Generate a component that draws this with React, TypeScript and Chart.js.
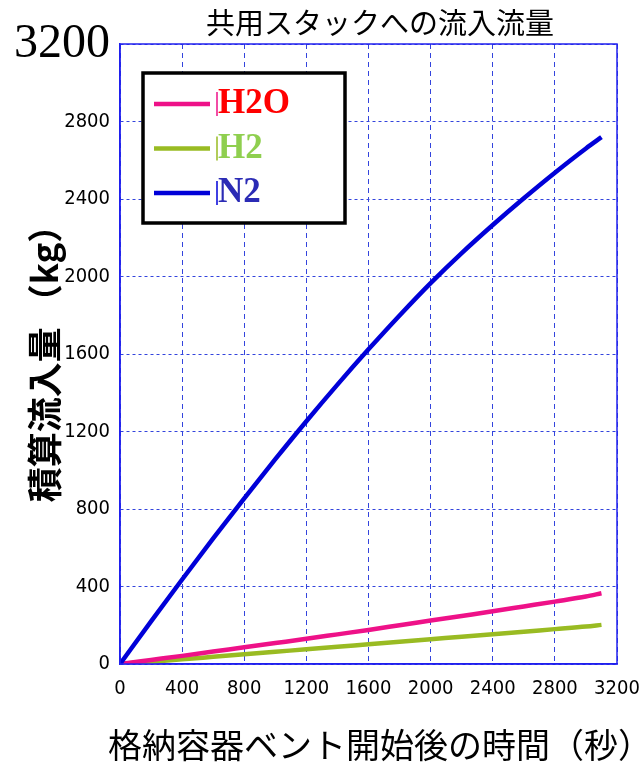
import React, { useEffect, useRef } from 'react';
import { Chart, registerables } from 'chart.js';

Chart.register(...registerables);

// ---- data ----
const timeSec = [0, 200, 400, 600, 800, 1000, 1200, 1400, 1600, 1800, 2000, 2200, 2400, 2600, 2800, 3000, 3100];
const h2oKg = [0, 21, 42, 64, 86, 108, 130, 153, 176, 200, 224, 248, 272, 297, 322, 348, 365];
const h2Kg = [0, 12, 24, 37, 50, 63, 76, 89, 102, 115, 128, 141, 154, 167, 180, 193, 202];
const n2Kg = [0, 220, 436, 648, 855, 1057, 1253, 1442, 1624, 1799, 1966, 2121, 2266, 2404, 2536, 2661, 2719];

const seriesNames = ['H2O', 'H2', 'N2'];
const lineColors = ['#ee1188', '#99bb22', '#0000d8'];
const legendTextColors = ['#ff0000', '#8fcf4f', '#2b2bb5'];

const axisMin = 0;
const axisMax = 3200;
const axisStep = 400;

const chartTitle = '共用スタックへの流入流量';
const xAxisTitle = '格納容器ベント開始後の時間（秒）';
const yAxisTitle = '積算流入量 （kg）';

const tickFamily = '"DejaVu Sans Condensed", "Liberation Sans Narrow", "DejaVu Sans", sans-serif';
const cjkFont = '"Noto Sans CJK JP", "Noto Sans", sans-serif';

const decorPlugin = {
  id: 'decor',
  afterDraw(chart: any) {
    const { ctx, chartArea } = chart;
    const { left, top, right, bottom } = chartArea;
    ctx.save();
    // frame
    ctx.strokeStyle = '#2222ee';
    ctx.lineWidth = 1.5;
    ctx.setLineDash([]);
    ctx.strokeRect(left, top, right - left, bottom - top);

    // title
    ctx.fillStyle = '#000';
    ctx.font = `29px ${cjkFont}`;
    ctx.textAlign = 'center';
    ctx.textBaseline = 'middle';
    ctx.fillText(chartTitle, 380, 23);

    // x title
    ctx.font = `34px ${cjkFont}`;
    ctx.textAlign = 'left';
    ctx.fillText(xAxisTitle, 108, 745);

    // y title
    ctx.save();
    ctx.translate(45, 355);
    ctx.rotate(-Math.PI / 2);
    ctx.font = `bold 35px ${cjkFont}`;
    ctx.textAlign = 'center';
    ctx.fillText(yAxisTitle, 0, 0);
    ctx.restore();

    // legend
    const bx = left + 23;
    const by = top + 29;
    const bw = 202;
    const bh = 150;
    ctx.fillStyle = '#fff';
    ctx.fillRect(bx, by, bw, bh);
    ctx.strokeStyle = '#000';
    ctx.lineWidth = 3.5;
    ctx.strokeRect(bx, by, bw, bh);
    seriesNames.forEach((name, i) => {
      const y = by + 31 + i * 44.5;
      ctx.strokeStyle = lineColors[i];
      ctx.lineWidth = 4.5;
      ctx.beginPath();
      ctx.moveTo(bx + 11, y);
      ctx.lineTo(bx + 67, y);
      ctx.stroke();
      ctx.lineWidth = 1.5;
      ctx.beginPath();
      ctx.moveTo(bx + 74, y - 12);
      ctx.lineTo(bx + 74, y + 12);
      ctx.stroke();
      ctx.fillStyle = legendTextColors[i];
      ctx.font = `bold 35px "Liberation Serif", serif`;
      ctx.textAlign = 'left';
      ctx.textBaseline = 'middle';
      ctx.fillText(name, bx + 75, y);
    });
    ctx.restore();
  },
};

export default function App() {
  const canvasRef = useRef<HTMLCanvasElement>(null);

  useEffect(() => {
    document.body.style.margin = '0';
    const canvas = canvasRef.current;
    if (!canvas) return;
    const seriesValues = [h2oKg, h2Kg, n2Kg];
    const orders = [1, 2, 0];
    const chart = new Chart(canvas, {
      type: 'line',
      data: {
        datasets: seriesNames.map((name, i) => ({
          label: name,
          data: timeSec.map((t, j) => ({ x: t, y: seriesValues[i][j] })),
          borderColor: lineColors[i],
          backgroundColor: lineColors[i],
          borderWidth: 4.5,
          pointRadius: 0,
          fill: false,
          cubicInterpolationMode: 'monotone',
          order: orders[i],
        })),
      },
      options: {
        responsive: false,
        maintainAspectRatio: false,
        animation: false,
        layout: { padding: { left: 0, right: 23, top: 44, bottom: 0 } },
        plugins: {
          legend: { display: false },
          title: { display: false },
          tooltip: { enabled: false },
        },
        scales: {
          x: {
            type: 'linear',
            min: axisMin,
            max: axisMax,
            ticks: {
              stepSize: axisStep,
              autoSkip: false,
              maxRotation: 0,
              padding: 13,
              color: '#000',
              callback: (v: any) => String(v),
              font: { family: tickFamily, size: 20, weight: 'condensed' },
            },
            grid: { color: '#3344dd', lineWidth: 1, drawTicks: false },
            border: { color: '#1a1aee', width: 1.5, dash: [5, 4] },
            afterFit: (s: any) => {
              s.height = 98;
              s.paddingLeft = 0;
              s.paddingRight = 0;
            },
          },
          y: {
            type: 'linear',
            min: axisMin,
            max: axisMax,
            ticks: {
              stepSize: axisStep,
              autoSkip: false,
              padding: 10,
              color: '#000',
              callback: (v: any) => String(v),
              font: (c: any) =>
                c.tick && c.tick.value === axisMax
                  ? { family: '"Liberation Serif", serif', size: 48 }
                  : { family: tickFamily, size: 20, weight: 'condensed' },
            },
            grid: { color: '#3344dd', lineWidth: 1, drawTicks: false },
            border: { color: '#1a1aee', width: 1.5, dash: [3, 3] },
            afterFit: (s: any) => {
              s.width = 120;
              s.paddingTop = 0;
              s.paddingBottom = 0;
            },
          },
        },
      } as any,
      plugins: [decorPlugin],
    });
    return () => chart.destroy();
  }, []);

  return (
    <div style={{ position: 'absolute', left: 0, top: 0, width: 640, height: 762 }}>
      <canvas ref={canvasRef} width={640} height={762} style={{ display: 'block' }} />
    </div>
  );
}
